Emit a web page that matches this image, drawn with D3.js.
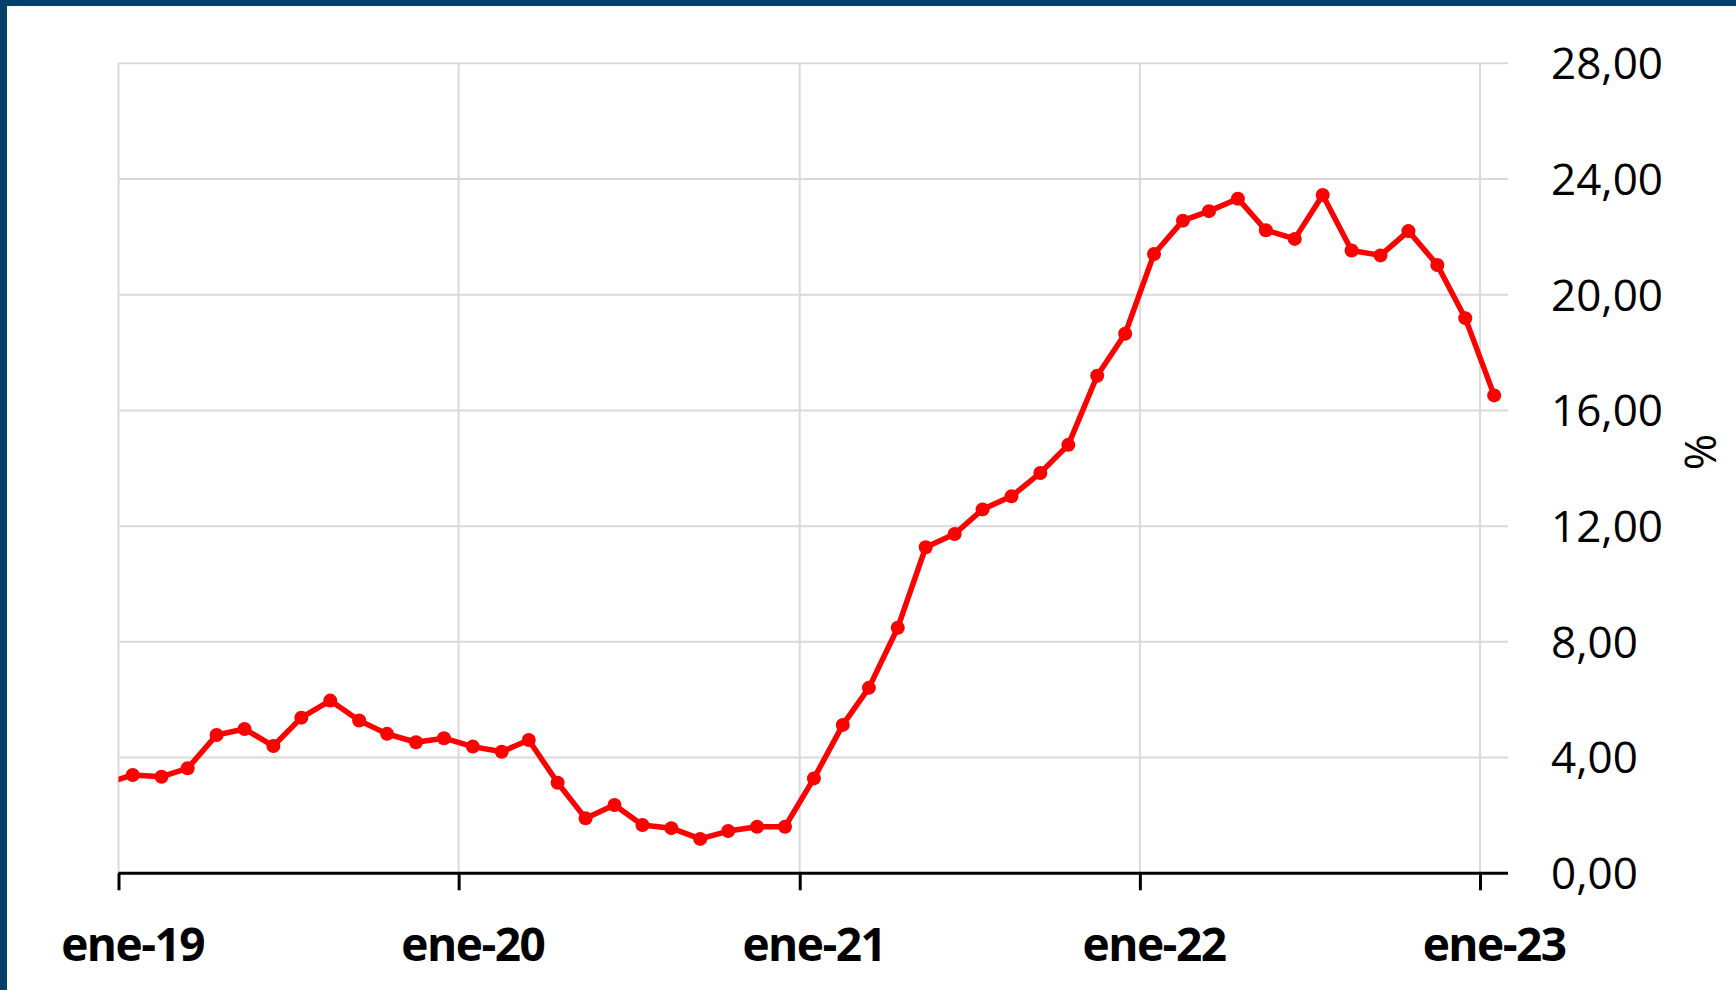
<!DOCTYPE html>
<html>
<head>
  <meta charset="UTF-8">
  <style>
    body {
      margin: 0;
      padding: 0;
      background-color: #ffffff;
      overflow: hidden;
    }
    #frame {
      position: absolute;
      left: 0;
      top: 0;
      width: 1736px;
      height: 990px;
      box-sizing: border-box;
      border-top: 6px solid #073f6c;
      border-left: 7px solid #073f6c;
    }
    svg {
      position: absolute;
      left: 0;
      top: 0;
    }
    .ylab {
      font-family: 'Open Sans', sans-serif;
      font-size: 44px;
      fill: #000;
    }
    .xlab {
      font-family: 'Open Sans', sans-serif;
      font-weight: bold;
      font-size: 46px;
      letter-spacing: -1.5px;
      fill: #000;
    }
  </style>
</head>
<body>
<div id="frame"></div>
<svg id="chart" width="1736" height="990"></svg>
<script src="https://d3js.org/d3.v7.min.js"></script>
<script>
// monthly series, dic-18 .. ene-23 (%)
let months = [
  "2018-12",
  "2019-01","2019-02","2019-03","2019-04","2019-05","2019-06","2019-07","2019-08","2019-09","2019-10","2019-11","2019-12",
  "2020-01","2020-02","2020-03","2020-04","2020-05","2020-06","2020-07","2020-08","2020-09","2020-10","2020-11","2020-12",
  "2021-01","2021-02","2021-03","2021-04","2021-05","2021-06","2021-07","2021-08","2021-09","2021-10","2021-11","2021-12",
  "2022-01","2022-02","2022-03","2022-04","2022-05","2022-06","2022-07","2022-08","2022-09","2022-10","2022-11","2022-12",
  "2023-01"
];
let values = [
  3.08,
  3.40, 3.34, 3.63, 4.78, 4.99, 4.40, 5.38, 5.97, 5.28, 4.82, 4.53, 4.67,
  4.38, 4.20, 4.61, 3.13, 1.90, 2.36, 1.67, 1.56, 1.19, 1.46, 1.61, 1.61,
  3.28, 5.13, 6.41, 8.49, 11.27, 11.73, 12.58, 13.03, 13.84, 14.81, 17.20, 18.65,
  21.41, 22.56, 22.89, 23.32, 22.23, 21.93, 23.45, 21.53, 21.36, 22.20, 21.03, 19.19,
  16.52
];
let yTicks = [0, 4, 8, 12, 16, 20, 24, 28];
let xTickDates = ["2019-01", "2020-01", "2021-01", "2022-01", "2023-01"];
let xTickLabels = ["ene-19", "ene-20", "ene-21", "ene-22", "ene-23"];
let yTitle = "%";

let parse = d3.timeParse("%Y-%m");
let data = months.map((m, i) => ({ date: parse(m), value: values[i] }));

let plotL = 118.5, plotR = 1508, plotT = 63.3, plotB = 873.3;
let tickL = 118.5, tickR = 1480;

let svg = d3.select("#chart");

// x: Excel date axis, each point drawn in the middle of its month slot
let x = d3.scaleTime()
    .domain([parse("2019-01"), parse("2023-01")])
    .range([tickL, tickR]);
let halfMonth = (tickR - tickL) / 48 / 2;
let px = d => x(d) + halfMonth;

let y = d3.scaleLinear()
    .domain([0, 28])
    .range([plotB, plotT]);

// horizontal gridlines
svg.append("g")
    .selectAll("line")
    .data(yTicks.filter(t => t > 0))
    .enter()
    .append("line")
    .attr("x1", plotL)
    .attr("x2", plotR)
    .attr("y1", d => y(d))
    .attr("y2", d => y(d))
    .attr("stroke", "#d9d9d9")
    .attr("stroke-width", 2);

// vertical gridlines
svg.append("g")
    .selectAll("line")
    .data(xTickDates)
    .enter()
    .append("line")
    .attr("x1", d => x(parse(d)))
    .attr("x2", d => x(parse(d)))
    .attr("y1", plotT)
    .attr("y2", plotB)
    .attr("stroke", "#d9d9d9")
    .attr("stroke-width", 2);

// y labels on the right
svg.append("g")
    .selectAll("text")
    .data(yTicks)
    .enter()
    .append("text")
    .attr("class", "ylab")
    .attr("x", 1551)
    .attr("y", d => y(d))
    .attr("dy", "0.36em")
    .text(d => d3.format(".2f")(d).replace(".", ","));

svg.append("text")
    .attr("class", "ylab")
    .attr("transform", "translate(1700,452) rotate(-90)")
    .attr("text-anchor", "middle")
    .attr("dy", "0.36em")
    .text(yTitle);

// series, clipped to the plot area
svg.append("clipPath")
    .attr("id", "plotclip")
    .append("rect")
    .attr("x", plotL)
    .attr("y", plotT - 20)
    .attr("width", plotR - plotL)
    .attr("height", plotB - plotT + 20);

let line = d3.line()
    .x(d => px(d.date))
    .y(d => y(d.value));

let series = svg.append("g").attr("clip-path", "url(#plotclip)");

series.append("path")
    .datum(data)
    .attr("d", line)
    .attr("fill", "none")
    .attr("stroke", "#ff0000")
    .attr("stroke-width", 5.5)
    .attr("stroke-linejoin", "round");

series.selectAll("circle")
    .data(data)
    .enter()
    .append("circle")
    .attr("cx", d => px(d.date))
    .attr("cy", d => y(d.value))
    .attr("r", 7)
    .attr("fill", "#ff0000");

// x axis line + ticks
let xAxis = d3.axisBottom(x)
    .tickValues(xTickDates.map(parse))
    .tickSize(17)
    .tickFormat("");

let ax = svg.append("g")
    .attr("transform", "translate(0," + plotB + ")")
    .call(xAxis);
ax.select(".domain").remove();
ax.selectAll(".tick line")
    .attr("stroke", "#000")
    .attr("stroke-width", 3);

svg.append("line")
    .attr("x1", plotL)
    .attr("x2", plotR)
    .attr("y1", plotB)
    .attr("y2", plotB)
    .attr("stroke", "#000")
    .attr("stroke-width", 3);

svg.append("g")
    .selectAll("text")
    .data(xTickDates)
    .enter()
    .append("text")
    .attr("class", "xlab")
    .attr("x", d => px(parse(d)))
    .attr("y", 961)
    .attr("text-anchor", "middle")
    .text((d, i) => xTickLabels[i]);
</script>
</body>
</html>
